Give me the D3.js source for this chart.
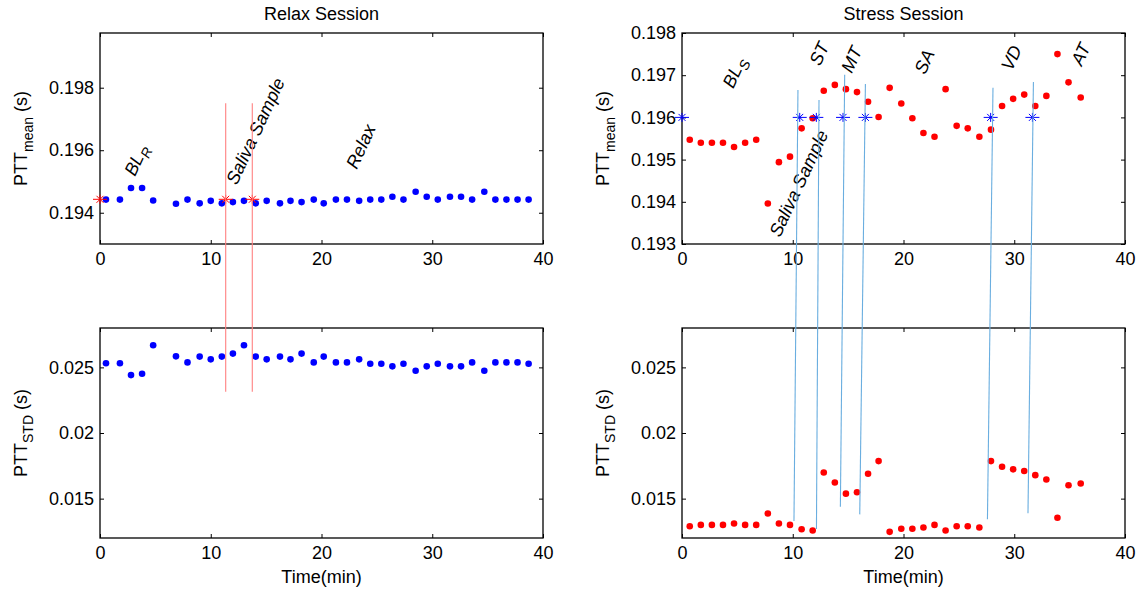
<!DOCTYPE html>
<html>
<head>
<meta charset="utf-8">
<script src="https://cdn.jsdelivr.net/npm/d3@7"></script>
<style>
  body { margin: 0; background: #fff; }
  svg { font-family: "Liberation Sans", Arial, sans-serif; }
  .axis text { font-size: 18px; fill: #000; }
  .axis line { stroke: #000; }
</style>
</head>
<body>
<div id="chart"></div>
<script>
// ---- data ----
var relaxTime = [0.54, 1.8, 2.8, 3.8, 4.8, 6.86, 7.9, 9.0, 10.0, 11.0, 12.0, 13.0, 14.06, 15.05, 16.25,
    17.2, 18.2, 19.3, 20.2, 21.3, 22.3, 23.4, 24.4, 25.4, 26.4, 27.4, 28.5, 29.5, 30.5, 31.6,
    32.6, 33.6, 34.7, 35.7, 36.7, 37.7, 38.7];
var relaxMean = [0.19442, 0.19442, 0.19479, 0.19479, 0.19439, 0.19429, 0.19442, 0.1943, 0.19438, 0.1943,
    0.19434, 0.19438, 0.1943, 0.19438, 0.1943, 0.19438, 0.19434, 0.19442, 0.1943, 0.19442,
    0.19442, 0.19438, 0.19442, 0.19442, 0.19451, 0.19442, 0.19467, 0.19451, 0.19442, 0.19451,
    0.19451, 0.19442, 0.19467, 0.19442, 0.19442, 0.19442, 0.19442];
var relaxStd = [0.02531, 0.02531, 0.02441, 0.02451, 0.02669, 0.02584, 0.02538, 0.02582, 0.02561, 0.02582,
    0.02605, 0.02669, 0.02582, 0.02561, 0.02582, 0.02561, 0.02605, 0.02538, 0.02582, 0.02538,
    0.02538, 0.02561, 0.02528, 0.02528, 0.02508, 0.02528, 0.02474, 0.02508, 0.02528, 0.02508,
    0.02508, 0.02538, 0.02474, 0.02538, 0.02538, 0.02538, 0.02528];

var stressTime = [0.7, 1.7, 2.7, 3.7, 4.7, 5.7, 6.7, 7.75, 8.75, 9.75, 10.8, 11.8, 12.8, 13.8, 14.8, 15.8,
    16.8, 17.75, 18.75, 19.8, 20.8, 21.8, 22.8, 23.8, 24.8, 25.8, 26.85, 27.9, 28.9, 29.9,
    30.9, 31.9, 32.9, 33.9, 34.9, 36.0];
var stressMean = [0.19547, 0.1954, 0.1954, 0.1954, 0.1953, 0.1954, 0.19547, 0.19396, 0.19494, 0.19507,
    0.19574, 0.19598, 0.19663, 0.19677, 0.19667, 0.1966, 0.19637, 0.19601, 0.1967, 0.19633,
    0.19598, 0.19563, 0.19554, 0.19667, 0.1958, 0.19574, 0.19554, 0.19571, 0.19627, 0.19644,
    0.19654, 0.19627, 0.19651, 0.1975, 0.19683, 0.19647];
var stressStd = [0.0129, 0.013, 0.013, 0.013, 0.01311, 0.013, 0.013, 0.01387, 0.01311, 0.013,
    0.01267, 0.01257, 0.01699, 0.01623, 0.01538, 0.01549, 0.01689, 0.01786, 0.01247, 0.0127,
    0.0127, 0.0128, 0.013, 0.01257, 0.0129, 0.0129, 0.0128, 0.01786, 0.01743, 0.01723,
    0.0171, 0.01679, 0.01646, 0.01354, 0.01602, 0.01615];

// event markers (asterisks)
var relaxMarkTime = [0, 11.35, 13.75];
var relaxMarkValue = 0.19443;
var stressMarkTime = [0, 10.63, 12.13, 14.54, 16.56, 27.87, 31.64];
var stressMarkValue = 0.196;

// connector lines: [time top, mean top, time bottom, std bottom]
var relaxLines = [[11.35, 0.1975, 11.35, 0.02314], [13.75, 0.1975, 13.75, 0.02314]];
var stressLines = [[10.47, 0.19665, 10.11, 0.01329], [12.37, 0.19641, 12.14, 0.01268],
    [14.69, 0.19701, 14.30, 0.01439], [16.56, 0.19679, 16.05, 0.01380],
    [28.08, 0.19670, 27.58, 0.01342], [31.73, 0.19684, 31.24, 0.01388]];

// phase labels: [text, subscript, time, value]
var relaxLabels = [["BL", "R", 3.16, 0.19514], ["Saliva Sample", "", 12.34, 0.19486], ["Relax", "", 23.18, 0.19537]];
var stressLabels = [["BL", "S", 4.63, 0.19667], ["ST", "", 12.46, 0.1972], ["MT", "", 15.32, 0.19703],
    ["SA", "", 21.94, 0.197], ["VD", "", 29.77, 0.19708], ["AT", "", 36.09, 0.1972],
    ["Saliva Sample", "", 8.85, 0.19314]];

var xTicks = [0, 10, 20, 30, 40];
var relaxMeanTicks = [0.194, 0.196, 0.198];
var stressMeanTicks = [0.193, 0.194, 0.195, 0.196, 0.197, 0.198];
var stdTicks = [0.015, 0.02, 0.025];

// ---- layout ----
var W = 1144, H = 594;
var colX = [[100, 543], [682, 1125]];
var rowY = [[33, 244], [328, 538]];

var svg = d3.select("#chart").append("svg")
    .attr("width", W)
    .attr("height", H);
svg.append("rect").attr("width", W).attr("height", H).attr("fill", "#fff");

// star marker like matlab '*'
function starPath(cx, cy) {
    return "M" + (cx - 7) + "," + cy + "H" + (cx + 7) +
        "M" + cx + "," + (cy - 4.5) + "V" + (cy + 4.5) +
        "M" + (cx - 3.5) + "," + (cy - 3.5) + "L" + (cx + 3.5) + "," + (cy + 3.5) +
        "M" + (cx - 3.5) + "," + (cy + 3.5) + "L" + (cx + 3.5) + "," + (cy - 3.5);
}

function makePanel(col, row, yDomain, yTicks, yFmt) {
    var x = d3.scaleLinear().domain([0, 40]).range(colX[col]);
    var y = d3.scaleLinear().domain(yDomain).range([rowY[row][1], rowY[row][0]]);
    var g = svg.append("g");

    // bottom axis with labels
    g.append("g").attr("class", "axis")
        .attr("transform", "translate(0," + rowY[row][1] + ")")
        .call(d3.axisBottom(x).tickValues(xTicks).tickSizeInner(-4).tickSizeOuter(0).tickPadding(8));
    // top axis ticks only
    g.append("g").attr("class", "axis")
        .attr("transform", "translate(0," + rowY[row][0] + ")")
        .call(d3.axisTop(x).tickValues(xTicks).tickSizeInner(-4).tickSizeOuter(0).tickFormat(""));
    // left axis with labels
    g.append("g").attr("class", "axis")
        .attr("transform", "translate(" + colX[col][0] + ",0)")
        .call(d3.axisLeft(y).tickValues(yTicks).tickSizeInner(-4).tickSizeOuter(0).tickPadding(6).tickFormat(yFmt));
    // right axis ticks only
    g.append("g").attr("class", "axis")
        .attr("transform", "translate(" + colX[col][1] + ",0)")
        .call(d3.axisRight(y).tickValues(yTicks).tickSizeInner(-4).tickSizeOuter(0).tickFormat(""));
    g.selectAll(".axis .domain").remove();

    // box
    g.append("rect")
        .attr("x", colX[col][0]).attr("y", rowY[row][0])
        .attr("width", colX[col][1] - colX[col][0])
        .attr("height", rowY[row][1] - rowY[row][0])
        .attr("fill", "none").attr("stroke", "#000").attr("stroke-width", 1.3);

    return {x: x, y: y, g: g};
}

function yLabel(panel, col, row, sub) {
    var cy = (rowY[row][0] + rowY[row][1]) / 2;
    var t = svg.append("text")
        .attr("transform", "translate(" + (colX[col][0] - 73) + "," + cy + ") rotate(-90)")
        .attr("text-anchor", "middle")
        .attr("font-size", 18);
    t.append("tspan").text("PTT");
    t.append("tspan").attr("font-size", 14).attr("dy", 6).text(sub);
    t.append("tspan").attr("dy", -6).text(" (s)");
}

function dots(panel, xs, ys, color) {
    panel.g.selectAll(null)
        .data(xs)
        .enter().append("circle")
        .attr("cx", function(d) { return panel.x(d); })
        .attr("cy", function(d, i) { return panel.y(ys[i]); })
        .attr("r", 3.3)
        .attr("fill", color);
}

function stars(panel, xs, v, color) {
    panel.g.selectAll(null)
        .data(xs)
        .enter().append("path")
        .attr("d", function(d) { return starPath(panel.x(d), panel.y(v)); })
        .attr("stroke", color)
        .attr("stroke-width", 1)
        .attr("fill", "none");
}

function labels(panel, list) {
    list.forEach(function(l) {
        var t = svg.append("text")
            .attr("transform", "translate(" + panel.x(l[2]) + "," + panel.y(l[3]) + ") rotate(-65)")
            .attr("font-size", 18)
            .attr("font-style", "italic");
        t.append("tspan").text(l[0]);
        if (l[1]) t.append("tspan").attr("font-size", 14).attr("dy", 5).text(l[1]);
    });
}

function connectors(top, bottom, list, color) {
    svg.selectAll(null)
        .data(list)
        .enter().append("line")
        .attr("x1", function(d) { return top.x(d[0]); })
        .attr("y1", function(d) { return top.y(d[1]); })
        .attr("x2", function(d) { return bottom.x(d[2]); })
        .attr("y2", function(d) { return bottom.y(d[3]); })
        .attr("stroke", color)
        .attr("stroke-width", 1.1);
}

var f3 = d3.format(".3f"), fg = d3.format("~g");

// relax column
var rTop = makePanel(0, 0, [0.193, 0.19975], relaxMeanTicks, f3);
var rBot = makePanel(0, 1, [0.012, 0.028], stdTicks, fg);
dots(rTop, relaxTime, relaxMean, "#0000ff");
dots(rBot, relaxTime, relaxStd, "#0000ff");
stars(rTop, relaxMarkTime, relaxMarkValue, "#ff0000");
labels(rTop, relaxLabels);
yLabel(rTop, 0, 0, "mean");
yLabel(rBot, 0, 1, "STD");

// stress column
var sTop = makePanel(1, 0, [0.193, 0.198], stressMeanTicks, f3);
var sBot = makePanel(1, 1, [0.012, 0.028], stdTicks, fg);
dots(sTop, stressTime, stressMean, "#ff0000");
dots(sBot, stressTime, stressStd, "#ff0000");
stars(sTop, stressMarkTime, stressMarkValue, "#0000ff");
labels(sTop, stressLabels);
yLabel(sTop, 1, 0, "mean");
yLabel(sBot, 1, 1, "STD");

// lines running across both rows
connectors(rTop, rBot, relaxLines, "#ff8080");
connectors(sTop, sBot, stressLines, "#6aaee0");

// titles and x labels
[["Relax Session", 0], ["Stress Session", 1]].forEach(function(d) {
    var cx = (colX[d[1]][0] + colX[d[1]][1]) / 2;
    svg.append("text").attr("x", cx).attr("y", 20).attr("text-anchor", "middle")
        .attr("font-size", 18).text(d[0]);
    svg.append("text").attr("x", cx).attr("y", 583).attr("text-anchor", "middle")
        .attr("font-size", 18).text("Time(min)");
});
</script>
</body>
</html>
